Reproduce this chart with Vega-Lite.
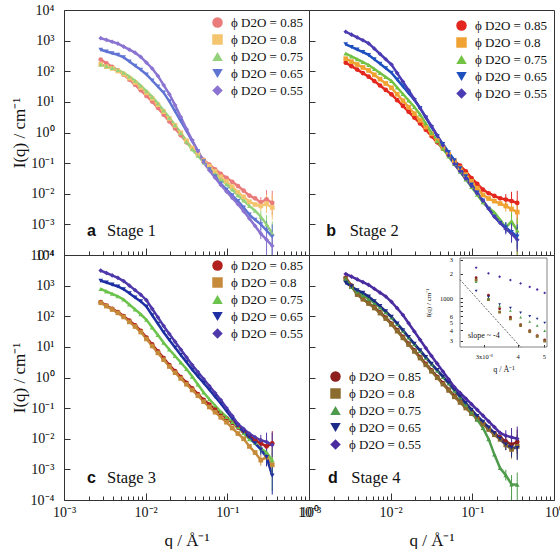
{
"$schema": "https://vega.github.io/schema/vega-lite/v6.json",
"background": "white",
"padding": {"left": 9, "top": 2, "right": 0, "bottom": 0},
"bounds": "flush",
"spacing": 0,
"columns": 2,
"config": {
 "view": {"stroke": "#333", "strokeWidth": 1},
 "axis": {"domain": false, "grid": false, "labelFont": "Liberation Serif", "titleFont": "Liberation Serif", "labelFontSize": 14, "titleFontSize": 17, "titleFontWeight": "normal", "labelColor": "#111", "titleColor": "#111", "tickColor": "#333", "tickWidth": 1},
 "legend": {"padding": 0, "labelFont": "Liberation Serif", "labelFontSize": 13, "labelColor": "#111", "symbolSize": 110, "rowPadding": 3, "labelOffset": 7, "symbolStrokeWidth": 0}
},
"resolve": {"scale": {"color": "independent", "shape": "independent", "stroke": "independent"}, "legend": {"color": "independent", "shape": "independent"}},
"datasets": {
"a": [
{"s":"0.85","q":0.002818,"i":240},{"s":"0.85","q":0.003311,"i":182},{"s":"0.85","q":0.00389,"i":140},{"s":"0.85","q":0.004571,"i":107},{"s":"0.85","q":0.00537,"i":77.6},{"s":"0.85","q":0.00631,"i":53.1},{"s":"0.85","q":0.007413,"i":36.3},{"s":"0.85","q":0.00871,"i":24},{"s":"0.85","q":0.01023,"i":15.7},{"s":"0.85","q":0.01202,"i":10.2},{"s":"0.85","q":0.01413,"i":6.38},{"s":"0.85","q":0.0166,"i":3.8},{"s":"0.85","q":0.0195,"i":2.29},{"s":"0.85","q":0.02291,"i":1.35},{"s":"0.85","q":0.02692,"i":0.813},{"s":"0.85","q":0.03162,"i":0.479},{"s":"0.85","q":0.03715,"i":0.302},{"s":"0.85","q":0.04365,"i":0.2},{"s":"0.85","q":0.05129,"i":0.129},{"s":"0.85","q":0.06026,"i":0.0891},{"s":"0.85","q":0.0708,"i":0.0631},{"s":"0.85","q":0.08318,"i":0.0447},{"s":"0.85","q":0.09772,"i":0.0331},{"s":"0.85","q":0.1148,"i":0.0245},{"s":"0.85","q":0.1349,"i":0.0178},{"s":"0.85","q":0.1585,"i":0.0126},{"s":"0.85","q":0.1862,"i":0.0087},{"s":"0.85","q":0.2188,"i":0.0071},{"s":"0.85","q":0.257,"i":0.0052,"lo":0.00347,"hi":0.0078},{"s":"0.85","q":0.302,"i":0.0066,"lo":0.0033,"hi":0.0132},{"s":"0.85","q":0.3548,"i":0.005,"lo":0.002,"hi":0.0125},
{"s":"0.8","q":0.002818,"i":170},{"s":"0.8","q":0.003311,"i":141},{"s":"0.8","q":0.00389,"i":124},{"s":"0.8","q":0.004571,"i":102},{"s":"0.8","q":0.00537,"i":81.3},{"s":"0.8","q":0.00631,"i":59.6},{"s":"0.8","q":0.007413,"i":42.7},{"s":"0.8","q":0.00871,"i":29.5},{"s":"0.8","q":0.01023,"i":19.7},{"s":"0.8","q":0.01202,"i":12.9},{"s":"0.8","q":0.01413,"i":8.04},{"s":"0.8","q":0.0166,"i":4.79},{"s":"0.8","q":0.0195,"i":2.88},{"s":"0.8","q":0.02291,"i":1.7},{"s":"0.8","q":0.02692,"i":0.977},{"s":"0.8","q":0.03162,"i":0.537},{"s":"0.8","q":0.03715,"i":0.309},{"s":"0.8","q":0.04365,"i":0.195},{"s":"0.8","q":0.05129,"i":0.12},{"s":"0.8","q":0.06026,"i":0.0794},{"s":"0.8","q":0.0708,"i":0.0537},{"s":"0.8","q":0.08318,"i":0.0355},{"s":"0.8","q":0.09772,"i":0.0251},{"s":"0.8","q":0.1148,"i":0.017},{"s":"0.8","q":0.1349,"i":0.0112},{"s":"0.8","q":0.1585,"i":0.0079},{"s":"0.8","q":0.1862,"i":0.0055},{"s":"0.8","q":0.2188,"i":0.00447},{"s":"0.8","q":0.257,"i":0.00398,"lo":0.00265,"hi":0.00597},{"s":"0.8","q":0.302,"i":0.00468,"lo":0.00234,"hi":0.00936},{"s":"0.8","q":0.3548,"i":0.00355,"lo":0.00142,"hi":0.00888},
{"s":"0.75","q":0.002818,"i":166},{"s":"0.75","q":0.003311,"i":145},{"s":"0.75","q":0.00389,"i":129},{"s":"0.75","q":0.004571,"i":110},{"s":"0.75","q":0.00537,"i":89.1},{"s":"0.75","q":0.00631,"i":67.6},{"s":"0.75","q":0.007413,"i":49},{"s":"0.75","q":0.00871,"i":33.9},{"s":"0.75","q":0.01023,"i":22.4},{"s":"0.75","q":0.01202,"i":14.5},{"s":"0.75","q":0.01413,"i":8.91},{"s":"0.75","q":0.0166,"i":5.25},{"s":"0.75","q":0.0195,"i":3.02},{"s":"0.75","q":0.02291,"i":1.74},{"s":"0.75","q":0.02692,"i":0.955},{"s":"0.75","q":0.03162,"i":0.501},{"s":"0.75","q":0.03715,"i":0.282},{"s":"0.75","q":0.04365,"i":0.174},{"s":"0.75","q":0.05129,"i":0.105},{"s":"0.75","q":0.06026,"i":0.0676},{"s":"0.75","q":0.0708,"i":0.0447},{"s":"0.75","q":0.08318,"i":0.0295},{"s":"0.75","q":0.09772,"i":0.0204},{"s":"0.75","q":0.1148,"i":0.0138},{"s":"0.75","q":0.1349,"i":0.0089},{"s":"0.75","q":0.1585,"i":0.006},{"s":"0.75","q":0.1862,"i":0.004},{"s":"0.75","q":0.2188,"i":0.0028},{"s":"0.75","q":0.257,"i":0.00178,"lo":0.00119,"hi":0.00267},{"s":"0.75","q":0.302,"i":0.001,"lo":0.00001,"hi":0.002},{"s":"0.75","q":0.3548,"i":0.0005,"lo":0.00001,"hi":0.00125},
{"s":"0.65","q":0.002818,"i":501},{"s":"0.65","q":0.003311,"i":441},{"s":"0.65","q":0.00389,"i":389},{"s":"0.65","q":0.004571,"i":344},{"s":"0.65","q":0.00537,"i":284},{"s":"0.65","q":0.00631,"i":208},{"s":"0.65","q":0.007413,"i":152},{"s":"0.65","q":0.00871,"i":112},{"s":"0.65","q":0.01023,"i":78.7},{"s":"0.65","q":0.01202,"i":49.9},{"s":"0.65","q":0.01413,"i":31.6},{"s":"0.65","q":0.0166,"i":20},{"s":"0.65","q":0.0195,"i":10.4},{"s":"0.65","q":0.02291,"i":4.94},{"s":"0.65","q":0.02692,"i":2.36},{"s":"0.65","q":0.03162,"i":1.12},{"s":"0.65","q":0.03715,"i":0.527},{"s":"0.65","q":0.04365,"i":0.245},{"s":"0.65","q":0.05129,"i":0.114},{"s":"0.65","q":0.06026,"i":0.0631},{"s":"0.65","q":0.0708,"i":0.0369},{"s":"0.65","q":0.08318,"i":0.0216},{"s":"0.65","q":0.09772,"i":0.0137},{"s":"0.65","q":0.1148,"i":0.00887},{"s":"0.65","q":0.1349,"i":0.00575},{"s":"0.65","q":0.1585,"i":0.00352},{"s":"0.65","q":0.1862,"i":0.00209},{"s":"0.65","q":0.2188,"i":0.00141},{"s":"0.65","q":0.257,"i":0.001,"lo":0.00067,"hi":0.0015},{"s":"0.65","q":0.302,"i":0.00063,"lo":0.00001,"hi":0.00126},{"s":"0.65","q":0.3548,"i":0.0004,"lo":0.00001,"hi":0.001},
{"s":"0.55","q":0.002818,"i":1202},{"s":"0.55","q":0.003311,"i":1057},{"s":"0.55","q":0.00389,"i":920},{"s":"0.55","q":0.004571,"i":802},{"s":"0.55","q":0.00537,"i":641},{"s":"0.55","q":0.00631,"i":509},{"s":"0.55","q":0.007413,"i":405},{"s":"0.55","q":0.00871,"i":294},{"s":"0.55","q":0.01023,"i":191},{"s":"0.55","q":0.01202,"i":123},{"s":"0.55","q":0.01413,"i":70.3},{"s":"0.55","q":0.0166,"i":35.3},{"s":"0.55","q":0.0195,"i":17.8},{"s":"0.55","q":0.02291,"i":7.85},{"s":"0.55","q":0.02692,"i":3.19},{"s":"0.55","q":0.03162,"i":1.3},{"s":"0.55","q":0.03715,"i":0.556},{"s":"0.55","q":0.04365,"i":0.245},{"s":"0.55","q":0.05129,"i":0.107},{"s":"0.55","q":0.06026,"i":0.0582},{"s":"0.55","q":0.0708,"i":0.0335},{"s":"0.55","q":0.08318,"i":0.0193},{"s":"0.55","q":0.09772,"i":0.0118},{"s":"0.55","q":0.1148,"i":0.00733},{"s":"0.55","q":0.1349,"i":0.00457},{"s":"0.55","q":0.1585,"i":0.00267},{"s":"0.55","q":0.1862,"i":0.00155},{"s":"0.55","q":0.2188,"i":0.00089},{"s":"0.55","q":0.257,"i":0.0005,"lo":0.00033,"hi":0.00075},{"s":"0.55","q":0.302,"i":0.000316,"lo":0.00001,"hi":0.00063},{"s":"0.55","q":0.3548,"i":0.0002,"lo":0.00001,"hi":0.0005}
],
"b": [
{"s":"0.85","q":0.002818,"i":191},{"s":"0.85","q":0.003311,"i":147},{"s":"0.85","q":0.00389,"i":113},{"s":"0.85","q":0.004571,"i":86.9},{"s":"0.85","q":0.00537,"i":66.5},{"s":"0.85","q":0.00631,"i":47.8},{"s":"0.85","q":0.007413,"i":34.2},{"s":"0.85","q":0.00871,"i":24.5},{"s":"0.85","q":0.01023,"i":17.6},{"s":"0.85","q":0.01202,"i":11.4},{"s":"0.85","q":0.01413,"i":7.36},{"s":"0.85","q":0.0166,"i":4.76},{"s":"0.85","q":0.0195,"i":3.08},{"s":"0.85","q":0.02291,"i":1.97},{"s":"0.85","q":0.02692,"i":1.23},{"s":"0.85","q":0.03162,"i":0.766},{"s":"0.85","q":0.03715,"i":0.477},{"s":"0.85","q":0.04365,"i":0.297},{"s":"0.85","q":0.05129,"i":0.185},{"s":"0.85","q":0.06026,"i":0.118},{"s":"0.85","q":0.0708,"i":0.0826},{"s":"0.85","q":0.08318,"i":0.0538},{"s":"0.85","q":0.09772,"i":0.0325},{"s":"0.85","q":0.1148,"i":0.0211},{"s":"0.85","q":0.1349,"i":0.0137},{"s":"0.85","q":0.1585,"i":0.0104},{"s":"0.85","q":0.1862,"i":0.0085},{"s":"0.85","q":0.2188,"i":0.0071},{"s":"0.85","q":0.257,"i":0.0065,"lo":0.00433,"hi":0.00975},{"s":"0.85","q":0.302,"i":0.0058,"lo":0.0029,"hi":0.0116},{"s":"0.85","q":0.3548,"i":0.005,"lo":0.00001,"hi":0.0125},
{"s":"0.8","q":0.002818,"i":257},{"s":"0.8","q":0.003311,"i":206},{"s":"0.8","q":0.00389,"i":166},{"s":"0.8","q":0.004571,"i":133},{"s":"0.8","q":0.00537,"i":106},{"s":"0.8","q":0.00631,"i":76.4},{"s":"0.8","q":0.007413,"i":55.3},{"s":"0.8","q":0.00871,"i":40},{"s":"0.8","q":0.01023,"i":28.8},{"s":"0.8","q":0.01202,"i":17.7},{"s":"0.8","q":0.01413,"i":10.9},{"s":"0.8","q":0.0166,"i":6.7},{"s":"0.8","q":0.0195,"i":4.11},{"s":"0.8","q":0.02291,"i":2.5},{"s":"0.8","q":0.02692,"i":1.5},{"s":"0.8","q":0.03162,"i":0.899},{"s":"0.8","q":0.03715,"i":0.54},{"s":"0.8","q":0.04365,"i":0.324},{"s":"0.8","q":0.05129,"i":0.195},{"s":"0.8","q":0.06026,"i":0.117},{"s":"0.8","q":0.0708,"i":0.0703},{"s":"0.8","q":0.08318,"i":0.0423},{"s":"0.8","q":0.09772,"i":0.0254},{"s":"0.8","q":0.1148,"i":0.0153},{"s":"0.8","q":0.1349,"i":0.00918},{"s":"0.8","q":0.1585,"i":0.00697},{"s":"0.8","q":0.1862,"i":0.00575},{"s":"0.8","q":0.2188,"i":0.00479},{"s":"0.8","q":0.257,"i":0.00398,"lo":0.00265,"hi":0.00597},{"s":"0.8","q":0.302,"i":0.00316,"lo":0.00158,"hi":0.00632},{"s":"0.8","q":0.3548,"i":0.00251,"lo":0.001,"hi":0.00628},
{"s":"0.75","q":0.002818,"i":380},{"s":"0.75","q":0.003311,"i":306},{"s":"0.75","q":0.00389,"i":248},{"s":"0.75","q":0.004571,"i":200},{"s":"0.75","q":0.00537,"i":160},{"s":"0.75","q":0.00631,"i":119},{"s":"0.75","q":0.007413,"i":87.5},{"s":"0.75","q":0.00871,"i":64.7},{"s":"0.75","q":0.01023,"i":47.9},{"s":"0.75","q":0.01202,"i":29.4},{"s":"0.75","q":0.01413,"i":18.1},{"s":"0.75","q":0.0166,"i":11.1},{"s":"0.75","q":0.0195,"i":6.82},{"s":"0.75","q":0.02291,"i":3.89},{"s":"0.75","q":0.02692,"i":1.96},{"s":"0.75","q":0.03162,"i":0.991},{"s":"0.75","q":0.03715,"i":0.524},{"s":"0.75","q":0.04365,"i":0.294},{"s":"0.75","q":0.05129,"i":0.166},{"s":"0.75","q":0.06026,"i":0.0933},{"s":"0.75","q":0.0708,"i":0.0525},{"s":"0.75","q":0.08318,"i":0.0295},{"s":"0.75","q":0.09772,"i":0.0166},{"s":"0.75","q":0.1148,"i":0.00933},{"s":"0.75","q":0.1349,"i":0.00525},{"s":"0.75","q":0.1585,"i":0.00347},{"s":"0.75","q":0.1862,"i":0.00245},{"s":"0.75","q":0.2188,"i":0.00141},{"s":"0.75","q":0.257,"i":0.00079,"lo":0.00053,"hi":0.00119},{"s":"0.75","q":0.302,"i":0.00126,"lo":0.00063,"hi":0.00252},{"s":"0.75","q":0.3548,"i":0.00063,"lo":0.00001,"hi":0.00158},
{"s":"0.65","q":0.002818,"i":759},{"s":"0.65","q":0.003311,"i":622},{"s":"0.65","q":0.00389,"i":512},{"s":"0.65","q":0.004571,"i":422},{"s":"0.65","q":0.00537,"i":341},{"s":"0.65","q":0.00631,"i":244},{"s":"0.65","q":0.007413,"i":175},{"s":"0.65","q":0.00871,"i":125},{"s":"0.65","q":0.01023,"i":89.1},{"s":"0.65","q":0.01202,"i":53.3},{"s":"0.65","q":0.01413,"i":32},{"s":"0.65","q":0.0166,"i":19.1},{"s":"0.65","q":0.0195,"i":11.5},{"s":"0.65","q":0.02291,"i":6.35},{"s":"0.65","q":0.02692,"i":3.08},{"s":"0.65","q":0.03162,"i":1.5},{"s":"0.65","q":0.03715,"i":0.764},{"s":"0.65","q":0.04365,"i":0.417},{"s":"0.65","q":0.05129,"i":0.228},{"s":"0.65","q":0.06026,"i":0.124},{"s":"0.65","q":0.0708,"i":0.0676},{"s":"0.65","q":0.08318,"i":0.0369},{"s":"0.65","q":0.09772,"i":0.0201},{"s":"0.65","q":0.1148,"i":0.011},{"s":"0.65","q":0.1349,"i":0.00596},{"s":"0.65","q":0.1585,"i":0.00324},{"s":"0.65","q":0.1862,"i":0.00178},{"s":"0.65","q":0.2188,"i":0.00112},{"s":"0.65","q":0.257,"i":0.00079,"lo":0.00053,"hi":0.00119},{"s":"0.65","q":0.302,"i":0.00056,"lo":0.00028,"hi":0.00112},{"s":"0.65","q":0.3548,"i":0.0004,"lo":0.00016,"hi":0.001},
{"s":"0.55","q":0.002818,"i":1950},{"s":"0.55","q":0.003311,"i":1570},{"s":"0.55","q":0.00389,"i":1271},{"s":"0.55","q":0.004571,"i":1028},{"s":"0.55","q":0.00537,"i":813},{"s":"0.55","q":0.00631,"i":546},{"s":"0.55","q":0.007413,"i":366},{"s":"0.55","q":0.00871,"i":247},{"s":"0.55","q":0.01023,"i":166},{"s":"0.55","q":0.01202,"i":86.9},{"s":"0.55","q":0.01413,"i":45.6},{"s":"0.55","q":0.0166,"i":23.9},{"s":"0.55","q":0.0195,"i":12.3},{"s":"0.55","q":0.02291,"i":6.27},{"s":"0.55","q":0.02692,"i":3.19},{"s":"0.55","q":0.03162,"i":1.63},{"s":"0.55","q":0.03715,"i":0.798},{"s":"0.55","q":0.04365,"i":0.378},{"s":"0.55","q":0.05129,"i":0.179},{"s":"0.55","q":0.06026,"i":0.094},{"s":"0.55","q":0.0708,"i":0.054},{"s":"0.55","q":0.08318,"i":0.031},{"s":"0.55","q":0.09772,"i":0.0178},{"s":"0.55","q":0.1148,"i":0.0102},{"s":"0.55","q":0.1349,"i":0.00589},{"s":"0.55","q":0.1585,"i":0.00324},{"s":"0.55","q":0.1862,"i":0.00178},{"s":"0.55","q":0.2188,"i":0.00112},{"s":"0.55","q":0.257,"i":0.00071,"lo":0.00047,"hi":0.00107},{"s":"0.55","q":0.302,"i":0.0005,"lo":0.00025,"hi":0.001},{"s":"0.55","q":0.3548,"i":0.000316,"lo":0.00013,"hi":0.00079}
],
"c": [
{"s":"0.85","q":0.002818,"i":288},{"s":"0.85","q":0.003311,"i":223},{"s":"0.85","q":0.00389,"i":174},{"s":"0.85","q":0.004571,"i":136},{"s":"0.85","q":0.00537,"i":102},{"s":"0.85","q":0.00631,"i":71.9},{"s":"0.85","q":0.007413,"i":50.8},{"s":"0.85","q":0.00871,"i":33.4},{"s":"0.85","q":0.01023,"i":20},{"s":"0.85","q":0.01202,"i":12},{"s":"0.85","q":0.01413,"i":7.16},{"s":"0.85","q":0.0166,"i":4.29},{"s":"0.85","q":0.0195,"i":2.56},{"s":"0.85","q":0.02291,"i":1.61},{"s":"0.85","q":0.02692,"i":1.04},{"s":"0.85","q":0.03162,"i":0.675},{"s":"0.85","q":0.03715,"i":0.44},{"s":"0.85","q":0.04365,"i":0.286},{"s":"0.85","q":0.05129,"i":0.187},{"s":"0.85","q":0.06026,"i":0.131},{"s":"0.85","q":0.0708,"i":0.0929},{"s":"0.85","q":0.08318,"i":0.0662},{"s":"0.85","q":0.09772,"i":0.0468},{"s":"0.85","q":0.1148,"i":0.033},{"s":"0.85","q":0.1349,"i":0.0232},{"s":"0.85","q":0.1585,"i":0.0168},{"s":"0.85","q":0.1862,"i":0.0122},{"s":"0.85","q":0.2188,"i":0.0089},{"s":"0.85","q":0.257,"i":0.0071,"lo":0.00473,"hi":0.0107},{"s":"0.85","q":0.302,"i":0.0056,"lo":0.0028,"hi":0.0112},{"s":"0.85","q":0.3548,"i":0.0071,"lo":0.00284,"hi":0.0178},
{"s":"0.8","q":0.002818,"i":275},{"s":"0.8","q":0.003311,"i":214},{"s":"0.8","q":0.00389,"i":166},{"s":"0.8","q":0.004571,"i":129},{"s":"0.8","q":0.00537,"i":95.1},{"s":"0.8","q":0.00631,"i":65.6},{"s":"0.8","q":0.007413,"i":46.3},{"s":"0.8","q":0.00871,"i":30.5},{"s":"0.8","q":0.01023,"i":18.2},{"s":"0.8","q":0.01202,"i":10.7},{"s":"0.8","q":0.01413,"i":6.38},{"s":"0.8","q":0.0166,"i":3.82},{"s":"0.8","q":0.0195,"i":2.29},{"s":"0.8","q":0.02291,"i":1.44},{"s":"0.8","q":0.02692,"i":0.929},{"s":"0.8","q":0.03162,"i":0.601},{"s":"0.8","q":0.03715,"i":0.392},{"s":"0.8","q":0.04365,"i":0.255},{"s":"0.8","q":0.05129,"i":0.163},{"s":"0.8","q":0.06026,"i":0.109},{"s":"0.8","q":0.0708,"i":0.0738},{"s":"0.8","q":0.08318,"i":0.0501},{"s":"0.8","q":0.09772,"i":0.0347},{"s":"0.8","q":0.1148,"i":0.0224},{"s":"0.8","q":0.1349,"i":0.0148},{"s":"0.8","q":0.1585,"i":0.01},{"s":"0.8","q":0.1862,"i":0.00562},{"s":"0.8","q":0.2188,"i":0.00355},{"s":"0.8","q":0.257,"i":0.002,"lo":0.00133,"hi":0.003},{"s":"0.8","q":0.302,"i":0.00251,"lo":0.00126,"hi":0.00502},{"s":"0.8","q":0.3548,"i":0.00141,"lo":0.00056,"hi":0.00353},
{"s":"0.75","q":0.002818,"i":776},{"s":"0.75","q":0.003311,"i":650},{"s":"0.75","q":0.00389,"i":541},{"s":"0.75","q":0.004571,"i":450},{"s":"0.75","q":0.00537,"i":351},{"s":"0.75","q":0.00631,"i":243},{"s":"0.75","q":0.007413,"i":168},{"s":"0.75","q":0.00871,"i":116},{"s":"0.75","q":0.01023,"i":76.4},{"s":"0.75","q":0.01202,"i":43.1},{"s":"0.75","q":0.01413,"i":24.3},{"s":"0.75","q":0.0166,"i":13.7},{"s":"0.75","q":0.0195,"i":8.24},{"s":"0.75","q":0.02291,"i":5.05},{"s":"0.75","q":0.02692,"i":3.09},{"s":"0.75","q":0.03162,"i":1.89},{"s":"0.75","q":0.03715,"i":1.07},{"s":"0.75","q":0.04365,"i":0.59},{"s":"0.75","q":0.05129,"i":0.324},{"s":"0.75","q":0.06026,"i":0.195},{"s":"0.75","q":0.0708,"i":0.122},{"s":"0.75","q":0.08318,"i":0.0759},{"s":"0.75","q":0.09772,"i":0.0514},{"s":"0.75","q":0.1148,"i":0.0353},{"s":"0.75","q":0.1349,"i":0.0243},{"s":"0.75","q":0.1585,"i":0.0153},{"s":"0.75","q":0.1862,"i":0.00962},{"s":"0.75","q":0.2188,"i":0.00741},{"s":"0.75","q":0.257,"i":0.00479,"lo":0.00319,"hi":0.00719},{"s":"0.75","q":0.302,"i":0.00355,"lo":0.00178,"hi":0.0071},{"s":"0.75","q":0.3548,"i":0.002,"lo":0.0002,"hi":0.005},
{"s":"0.65","q":0.002818,"i":1445},{"s":"0.65","q":0.003311,"i":1268},{"s":"0.65","q":0.00389,"i":1079},{"s":"0.65","q":0.004571,"i":940},{"s":"0.65","q":0.00537,"i":757},{"s":"0.65","q":0.00631,"i":565},{"s":"0.65","q":0.007413,"i":411},{"s":"0.65","q":0.00871,"i":306},{"s":"0.65","q":0.01023,"i":206},{"s":"0.65","q":0.01202,"i":108},{"s":"0.65","q":0.01413,"i":56.8},{"s":"0.65","q":0.0166,"i":29.8},{"s":"0.65","q":0.0195,"i":16.7},{"s":"0.65","q":0.02291,"i":9.53},{"s":"0.65","q":0.02692,"i":5.42},{"s":"0.65","q":0.03162,"i":3.16},{"s":"0.65","q":0.03715,"i":1.81},{"s":"0.65","q":0.04365,"i":1.09},{"s":"0.65","q":0.05129,"i":0.659},{"s":"0.65","q":0.06026,"i":0.398},{"s":"0.65","q":0.0708,"i":0.235},{"s":"0.65","q":0.08318,"i":0.142},{"s":"0.65","q":0.09772,"i":0.0805},{"s":"0.65","q":0.1148,"i":0.0461},{"s":"0.65","q":0.1349,"i":0.0263},{"s":"0.65","q":0.1585,"i":0.0166},{"s":"0.65","q":0.1862,"i":0.0112},{"s":"0.65","q":0.2188,"i":0.0071},{"s":"0.65","q":0.257,"i":0.00447,"lo":0.00298,"hi":0.0067},{"s":"0.65","q":0.302,"i":0.00251,"lo":0.00126,"hi":0.00502},{"s":"0.65","q":0.3548,"i":0.00063,"lo":0.00015,"hi":0.00158},
{"s":"0.55","q":0.002818,"i":3090},{"s":"0.55","q":0.003311,"i":2588},{"s":"0.55","q":0.00389,"i":2153},{"s":"0.55","q":0.004571,"i":1791},{"s":"0.55","q":0.00537,"i":1409},{"s":"0.55","q":0.00631,"i":1005},{"s":"0.55","q":0.007413,"i":714},{"s":"0.55","q":0.00871,"i":508},{"s":"0.55","q":0.01023,"i":334},{"s":"0.55","q":0.01202,"i":175},{"s":"0.55","q":0.01413,"i":92},{"s":"0.55","q":0.0166,"i":48.3},{"s":"0.55","q":0.0195,"i":26.5},{"s":"0.55","q":0.02291,"i":14.8},{"s":"0.55","q":0.02692,"i":8.2},{"s":"0.55","q":0.03162,"i":4.56},{"s":"0.55","q":0.03715,"i":2.55},{"s":"0.55","q":0.04365,"i":1.51},{"s":"0.55","q":0.05129,"i":0.889},{"s":"0.55","q":0.06026,"i":0.525},{"s":"0.55","q":0.0708,"i":0.31},{"s":"0.55","q":0.08318,"i":0.183},{"s":"0.55","q":0.09772,"i":0.101},{"s":"0.55","q":0.1148,"i":0.0555},{"s":"0.55","q":0.1349,"i":0.0302},{"s":"0.55","q":0.1585,"i":0.0209},{"s":"0.55","q":0.1862,"i":0.0147},{"s":"0.55","q":0.2188,"i":0.0112},{"s":"0.55","q":0.257,"i":0.0089,"lo":0.00593,"hi":0.0134},{"s":"0.55","q":0.302,"i":0.0079,"lo":0.00395,"hi":0.0158},{"s":"0.55","q":0.3548,"i":0.0063,"lo":0.00252,"hi":0.0158}
],
"d": [
{"s":"0.85","q":0.002818,"i":1795},{"s":"0.85","q":0.003311,"i":1000},{"s":"0.85","q":0.00389,"i":540},{"s":"0.85","q":0.004571,"i":370},{"s":"0.85","q":0.00537,"i":270},{"s":"0.85","q":0.00631,"i":195},{"s":"0.85","q":0.007413,"i":135},{"s":"0.85","q":0.00871,"i":90},{"s":"0.85","q":0.01023,"i":58.1},{"s":"0.85","q":0.01202,"i":35.1},{"s":"0.85","q":0.01413,"i":21.1},{"s":"0.85","q":0.0166,"i":12.7},{"s":"0.85","q":0.0195,"i":7.66},{"s":"0.85","q":0.02291,"i":4.62},{"s":"0.85","q":0.02692,"i":2.79},{"s":"0.85","q":0.03162,"i":1.7},{"s":"0.85","q":0.03715,"i":1.05},{"s":"0.85","q":0.04365,"i":0.653},{"s":"0.85","q":0.05129,"i":0.405},{"s":"0.85","q":0.06026,"i":0.251},{"s":"0.85","q":0.0708,"i":0.164},{"s":"0.85","q":0.08318,"i":0.108},{"s":"0.85","q":0.09772,"i":0.0708},{"s":"0.85","q":0.1148,"i":0.0471},{"s":"0.85","q":0.1349,"i":0.032},{"s":"0.85","q":0.1585,"i":0.0217},{"s":"0.85","q":0.1862,"i":0.0152},{"s":"0.85","q":0.2188,"i":0.0111},{"s":"0.85","q":0.257,"i":0.0081,"lo":0.0054,"hi":0.0122},{"s":"0.85","q":0.302,"i":0.00646,"lo":0.00323,"hi":0.0129},{"s":"0.85","q":0.3548,"i":0.0079,"lo":0.00316,"hi":0.0198},
{"s":"0.8","q":0.002818,"i":1679},{"s":"0.8","q":0.003311,"i":930},{"s":"0.8","q":0.00389,"i":510},{"s":"0.8","q":0.004571,"i":360},{"s":"0.8","q":0.00537,"i":260},{"s":"0.8","q":0.00631,"i":186},{"s":"0.8","q":0.007413,"i":127},{"s":"0.8","q":0.00871,"i":84},{"s":"0.8","q":0.01023,"i":54.2},{"s":"0.8","q":0.01202,"i":32.7},{"s":"0.8","q":0.01413,"i":19.7},{"s":"0.8","q":0.0166,"i":11.9},{"s":"0.8","q":0.0195,"i":7.14},{"s":"0.8","q":0.02291,"i":4.32},{"s":"0.8","q":0.02692,"i":2.6},{"s":"0.8","q":0.03162,"i":1.59},{"s":"0.8","q":0.03715,"i":0.984},{"s":"0.8","q":0.04365,"i":0.61},{"s":"0.8","q":0.05129,"i":0.378},{"s":"0.8","q":0.06026,"i":0.234},{"s":"0.8","q":0.0708,"i":0.153},{"s":"0.8","q":0.08318,"i":0.101},{"s":"0.8","q":0.09772,"i":0.0661},{"s":"0.8","q":0.1148,"i":0.044},{"s":"0.8","q":0.1349,"i":0.0299},{"s":"0.8","q":0.1585,"i":0.02},{"s":"0.8","q":0.1862,"i":0.0135},{"s":"0.8","q":0.2188,"i":0.00955},{"s":"0.8","q":0.257,"i":0.0063,"lo":0.0042,"hi":0.00945},{"s":"0.8","q":0.302,"i":0.00447,"lo":0.00224,"hi":0.00894},{"s":"0.8","q":0.3548,"i":0.00562,"lo":0.00225,"hi":0.014},
{"s":"0.75","q":0.002818,"i":1600},{"s":"0.75","q":0.003311,"i":900},{"s":"0.75","q":0.00389,"i":650},{"s":"0.75","q":0.004571,"i":490},{"s":"0.75","q":0.00537,"i":370},{"s":"0.75","q":0.00631,"i":270},{"s":"0.75","q":0.007413,"i":195},{"s":"0.75","q":0.00871,"i":135},{"s":"0.75","q":0.01023,"i":92},{"s":"0.75","q":0.01202,"i":55.6},{"s":"0.75","q":0.01413,"i":33.5},{"s":"0.75","q":0.0166,"i":20.1},{"s":"0.75","q":0.0195,"i":12.1},{"s":"0.75","q":0.02291,"i":7.33},{"s":"0.75","q":0.02692,"i":4.42},{"s":"0.75","q":0.03162,"i":2.7},{"s":"0.75","q":0.03715,"i":1.67},{"s":"0.75","q":0.04365,"i":1.04},{"s":"0.75","q":0.05129,"i":0.641},{"s":"0.75","q":0.06026,"i":0.372},{"s":"0.75","q":0.0708,"i":0.222},{"s":"0.75","q":0.08318,"i":0.13},{"s":"0.75","q":0.09772,"i":0.0741},{"s":"0.75","q":0.1148,"i":0.042},{"s":"0.75","q":0.1349,"i":0.0226},{"s":"0.75","q":0.1585,"i":0.0097},{"s":"0.75","q":0.1862,"i":0.00304},{"s":"0.75","q":0.2188,"i":0.00111},{"s":"0.75","q":0.257,"i":0.000646,"lo":0.00043,"hi":0.00097},{"s":"0.75","q":0.302,"i":0.000324,"lo":0.00001,"hi":0.00065},{"s":"0.75","q":0.3548,"i":0.000316,"lo":0.00001,"hi":0.00079},
{"s":"0.65","q":0.002818,"i":1233},{"s":"0.65","q":0.003311,"i":950},{"s":"0.65","q":0.00389,"i":710},{"s":"0.65","q":0.004571,"i":580},{"s":"0.65","q":0.00537,"i":440},{"s":"0.65","q":0.00631,"i":310},{"s":"0.65","q":0.007413,"i":215},{"s":"0.65","q":0.00871,"i":145},{"s":"0.65","q":0.01023,"i":96.4},{"s":"0.65","q":0.01202,"i":58.2},{"s":"0.65","q":0.01413,"i":35.1},{"s":"0.65","q":0.0166,"i":21.1},{"s":"0.65","q":0.0195,"i":12.7},{"s":"0.65","q":0.02291,"i":7.67},{"s":"0.65","q":0.02692,"i":4.62},{"s":"0.65","q":0.03162,"i":2.82},{"s":"0.65","q":0.03715,"i":1.75},{"s":"0.65","q":0.04365,"i":1.08},{"s":"0.65","q":0.05129,"i":0.671},{"s":"0.65","q":0.06026,"i":0.398},{"s":"0.65","q":0.0708,"i":0.243},{"s":"0.65","q":0.08318,"i":0.146},{"s":"0.65","q":0.09772,"i":0.0891},{"s":"0.65","q":0.1148,"i":0.0553},{"s":"0.65","q":0.1349,"i":0.0359},{"s":"0.65","q":0.1585,"i":0.0233},{"s":"0.65","q":0.1862,"i":0.0152},{"s":"0.65","q":0.2188,"i":0.0099},{"s":"0.65","q":0.257,"i":0.00646,"lo":0.0043,"hi":0.0097},{"s":"0.65","q":0.302,"i":0.00513,"lo":0.00256,"hi":0.0103},{"s":"0.65","q":0.3548,"i":0.005,"lo":0.002,"hi":0.0125},
{"s":"0.55","q":0.002818,"i":2399},{"s":"0.55","q":0.003311,"i":1968},{"s":"0.55","q":0.00389,"i":1603},{"s":"0.55","q":0.004571,"i":1303},{"s":"0.55","q":0.00537,"i":1054},{"s":"0.55","q":0.00631,"i":789},{"s":"0.55","q":0.007413,"i":590},{"s":"0.55","q":0.00871,"i":442},{"s":"0.55","q":0.01023,"i":296},{"s":"0.55","q":0.01202,"i":183},{"s":"0.55","q":0.01413,"i":110},{"s":"0.55","q":0.0166,"i":59.3},{"s":"0.55","q":0.0195,"i":31.8},{"s":"0.55","q":0.02291,"i":17.1},{"s":"0.55","q":0.02692,"i":9.2},{"s":"0.55","q":0.03162,"i":5.06},{"s":"0.55","q":0.03715,"i":2.82},{"s":"0.55","q":0.04365,"i":1.57},{"s":"0.55","q":0.05129,"i":0.871},{"s":"0.55","q":0.06026,"i":0.484},{"s":"0.55","q":0.0708,"i":0.313},{"s":"0.55","q":0.08318,"i":0.206},{"s":"0.55","q":0.09772,"i":0.135},{"s":"0.55","q":0.1148,"i":0.0881},{"s":"0.55","q":0.1349,"i":0.057},{"s":"0.55","q":0.1585,"i":0.037},{"s":"0.55","q":0.1862,"i":0.024},{"s":"0.55","q":0.2188,"i":0.0155},{"s":"0.55","q":0.257,"i":0.0126,"lo":0.0084,"hi":0.0189},{"s":"0.55","q":0.302,"i":0.0112,"lo":0.0056,"hi":0.0224},{"s":"0.55","q":0.3548,"i":0.01,"lo":0.004,"hi":0.025}
],
"inset": [
{"s":"0.85","q":0.00281,"i":1795},{"s":"0.85","q":0.00312,"i":1090},{"s":"0.85","q":0.00343,"i":743},{"s":"0.85","q":0.00376,"i":584},{"s":"0.85","q":0.0041,"i":473},{"s":"0.85","q":0.00443,"i":398},{"s":"0.85","q":0.00472,"i":345},{"s":"0.85","q":0.00503,"i":305},
{"s":"0.8","q":0.00281,"i":1679},{"s":"0.8","q":0.00312,"i":964},{"s":"0.8","q":0.00343,"i":675},{"s":"0.8","q":0.00376,"i":557},{"s":"0.8","q":0.0041,"i":460},{"s":"0.8","q":0.00443,"i":387},{"s":"0.8","q":0.00472,"i":338},{"s":"0.8","q":0.00503,"i":296},
{"s":"0.75","q":0.00281,"i":1600},{"s":"0.75","q":0.00312,"i":1010},{"s":"0.75","q":0.00343,"i":801},{"s":"0.75","q":0.00376,"i":708},{"s":"0.75","q":0.0041,"i":584},{"s":"0.75","q":0.00443,"i":516},{"s":"0.75","q":0.00472,"i":460},{"s":"0.75","q":0.00503,"i":398},
{"s":"0.65","q":0.00281,"i":1233},{"s":"0.65","q":0.00312,"i":1038},{"s":"0.65","q":0.00343,"i":841},{"s":"0.65","q":0.00376,"i":757},{"s":"0.65","q":0.0041,"i":663},{"s":"0.65","q":0.00443,"i":601},{"s":"0.65","q":0.00472,"i":557},{"s":"0.65","q":0.00503,"i":497},
{"s":"0.55","q":0.00281,"i":2395},{"s":"0.55","q":0.00312,"i":2037},{"s":"0.55","q":0.00343,"i":1846},{"s":"0.55","q":0.00376,"i":1679},{"s":"0.55","q":0.0041,"i":1528},{"s":"0.55","q":0.00443,"i":1384},{"s":"0.55","q":0.00472,"i":1285},{"s":"0.55","q":0.00503,"i":1165}
]
},
"concat": [
{
 "width": 245, "height": 245,
 "data": {"name": "a"},
 "encoding": {
  "x": {"field": "q", "type": "quantitative", "scale": {"type": "log", "domain": [0.001, 1]}, "axis": {"values": [0.001,0.002,0.003,0.004,0.005,0.006,0.007,0.008,0.009,0.01,0.02,0.03,0.04,0.05,0.06,0.07,0.08,0.09,0.1,0.2,0.3,0.4,0.5,0.6,0.7,0.8,0.9,1], "labels": false, "title": null, "tickSize": {"condition": {"test": "abs(log(datum.value)/LN10 - round(log(datum.value)/LN10)) < 0.001", "value": -7}, "value": -4}}},
  "y": {"field": "i", "type": "quantitative", "scale": {"type": "log", "domain": [0.0001, 10000]}, "title": "I(q) / cm⁻¹", "axis": {"values": [0.0001,0.001,0.01,0.1,1,10,100,1000,10000], "labelExpr": "'10' + ['⁻⁴','⁻³','⁻²','⁻¹','⁰','¹','²','³','⁴'][round(log(datum.value)/LN10)+4]", "tickSize": -6, "labelPadding": 16, "titlePadding": 2}}
 },
 "layer": [
  {"mark": {"type": "line", "strokeWidth": 2.5, "clip": true},
   "encoding": {"stroke": {"field": "s", "type": "nominal", "scale": {"domain": ["0.55","0.65","0.75","0.8","0.85"], "range": ["#8B74D1","#5F74D3","#93D27A","#F5C46E","#E97B7B"]}, "legend": null}, "order": {"field": "q", "type": "quantitative"}}},
  {"transform": [{"filter": "isValid(datum.lo)"}], "mark": {"type": "rule", "strokeWidth": 1, "clip": true},
   "encoding": {"y": {"field": "lo", "type": "quantitative", "scale": {"type": "log", "domain": [0.0001, 10000]}, "title": "I(q) / cm⁻¹"}, "y2": {"field": "hi"},
    "color": {"field": "s", "type": "nominal", "scale": {"domain": ["0.85","0.8","0.75","0.65","0.55"], "range": ["#E97B7B","#F5C46E","#93D27A","#5F74D3","#8B74D1"]}, "legend": {"title": null, "orient": "none", "legendX": 147, "legendY": 6, "labelExpr": "'ϕ D2O = ' + datum.label"}}}},
  {"mark": {"type": "point", "filled": true, "size": 22, "opacity": 1, "clip": true},
   "encoding": {
    "color": {"field": "s", "type": "nominal", "scale": {"domain": ["0.85","0.8","0.75","0.65","0.55"], "range": ["#E97B7B","#F5C46E","#93D27A","#5F74D3","#8B74D1"]}, "legend": {"title": null, "orient": "none", "legendX": 147, "legendY": 6, "labelExpr": "'ϕ D2O = ' + datum.label"}},
    "shape": {"field": "s", "type": "nominal", "scale": {"domain": ["0.85","0.8","0.75","0.65","0.55"], "range": ["circle","square","triangle-up","triangle-down","diamond"]}, "legend": {"title": null, "orient": "none", "legendX": 147, "legendY": 6, "labelExpr": "'ϕ D2O = ' + datum.label"}}}},
  {"transform": [{"filter": "datum.s == '0.85' && datum.q == 0.002818"}], "mark": {"type": "text", "text": "a", "font": "Liberation Sans", "fontWeight": "bold", "fontSize": 16, "align": "left", "baseline": "middle", "color": "#111"},
   "encoding": {"x": {"datum": 0.00191}, "y": {"datum": 0.0006}}},
  {"transform": [{"filter": "datum.s == '0.85' && datum.q == 0.002818"}], "mark": {"type": "text", "text": "Stage 1", "font": "Liberation Serif", "fontSize": 16.5, "align": "left", "baseline": "middle", "color": "#111"},
   "encoding": {"x": {"datum": 0.00336}, "y": {"datum": 0.0006}}}
 ]
},
{
 "width": 245, "height": 245,
 "data": {"name": "b"},
 "encoding": {
  "x": {"field": "q", "type": "quantitative", "scale": {"type": "log", "domain": [0.001, 1]}, "axis": {"values": [0.001,0.002,0.003,0.004,0.005,0.006,0.007,0.008,0.009,0.01,0.02,0.03,0.04,0.05,0.06,0.07,0.08,0.09,0.1,0.2,0.3,0.4,0.5,0.6,0.7,0.8,0.9,1], "labels": false, "title": null, "tickSize": {"condition": {"test": "abs(log(datum.value)/LN10 - round(log(datum.value)/LN10)) < 0.001", "value": -7}, "value": -4}}},
  "y": {"field": "i", "type": "quantitative", "scale": {"type": "log", "domain": [0.0001, 10000]}, "title": null, "axis": {"values": [0.0001,0.001,0.01,0.1,1,10,100,1000,10000], "labels": false, "tickSize": -6}}
 },
 "layer": [
  {"mark": {"type": "line", "strokeWidth": 2.5, "clip": true},
   "encoding": {"stroke": {"field": "s", "type": "nominal", "scale": {"domain": ["0.55","0.65","0.75","0.8","0.85"], "range": ["#4B3CB3","#1D4FBF","#72C244","#F0A232","#E3261E"]}, "legend": null}, "order": {"field": "q", "type": "quantitative"}}},
  {"transform": [{"filter": "isValid(datum.lo)"}], "mark": {"type": "rule", "strokeWidth": 1, "clip": true},
   "encoding": {"y": {"field": "lo", "type": "quantitative", "scale": {"type": "log", "domain": [0.0001, 10000]}, "title": null}, "y2": {"field": "hi"},
    "color": {"field": "s", "type": "nominal", "scale": {"domain": ["0.85","0.8","0.75","0.65","0.55"], "range": ["#E3261E","#F0A232","#72C244","#1D4FBF","#4B3CB3"]}, "legend": {"title": null, "orient": "none", "legendX": 146, "legendY": 9, "labelExpr": "'ϕ D2O = ' + datum.label"}}}},
  {"mark": {"type": "point", "filled": true, "size": 22, "opacity": 1, "clip": true},
   "encoding": {
    "color": {"field": "s", "type": "nominal", "scale": {"domain": ["0.85","0.8","0.75","0.65","0.55"], "range": ["#E3261E","#F0A232","#72C244","#1D4FBF","#4B3CB3"]}, "legend": {"title": null, "orient": "none", "legendX": 146, "legendY": 9, "labelExpr": "'ϕ D2O = ' + datum.label"}},
    "shape": {"field": "s", "type": "nominal", "scale": {"domain": ["0.85","0.8","0.75","0.65","0.55"], "range": ["circle","square","triangle-up","triangle-down","diamond"]}, "legend": {"title": null, "orient": "none", "legendX": 146, "legendY": 9, "labelExpr": "'ϕ D2O = ' + datum.label"}}}},
  {"transform": [{"filter": "datum.s == '0.85' && datum.q == 0.002818"}], "mark": {"type": "text", "text": "b", "font": "Liberation Sans", "fontWeight": "bold", "fontSize": 16, "align": "left", "baseline": "middle", "color": "#111"},
   "encoding": {"x": {"datum": 0.00163}, "y": {"datum": 0.0006}}},
  {"transform": [{"filter": "datum.s == '0.85' && datum.q == 0.002818"}], "mark": {"type": "text", "text": "Stage 2", "font": "Liberation Serif", "fontSize": 16.5, "align": "left", "baseline": "middle", "color": "#111"},
   "encoding": {"x": {"datum": 0.00315}, "y": {"datum": 0.0006}}}
 ]
},
{
 "width": 245, "height": 245,
 "data": {"name": "c"},
 "encoding": {
  "x": {"field": "q", "type": "quantitative", "scale": {"type": "log", "domain": [0.001, 1]}, "title": "q / Å⁻¹", "axis": {"values": [0.001,0.002,0.003,0.004,0.005,0.006,0.007,0.008,0.009,0.01,0.02,0.03,0.04,0.05,0.06,0.07,0.08,0.09,0.1,0.2,0.3,0.4,0.5,0.6,0.7,0.8,0.9,1], "labelExpr": "abs(log(datum.value)/LN10 - round(log(datum.value)/LN10)) < 0.001 ? '10' + ['⁻⁴','⁻³','⁻²','⁻¹','⁰','¹','²','³','⁴'][round(log(datum.value)/LN10)+4] : ''", "labelFlush": false, "labelOverlap": false, "labelPadding": 12, "titlePadding": 10, "tickSize": {"condition": {"test": "abs(log(datum.value)/LN10 - round(log(datum.value)/LN10)) < 0.001", "value": -7}, "value": -4}}},
  "y": {"field": "i", "type": "quantitative", "scale": {"type": "log", "domain": [0.0001, 10000]}, "title": "I(q) / cm⁻¹", "axis": {"values": [0.0001,0.001,0.01,0.1,1,10,100,1000,10000], "labelExpr": "'10' + ['⁻⁴','⁻³','⁻²','⁻¹','⁰','¹','²','³','⁴'][round(log(datum.value)/LN10)+4]", "tickSize": -6, "labelPadding": 16, "titlePadding": 2}}
 },
 "layer": [
  {"mark": {"type": "line", "strokeWidth": 2.5, "clip": true},
   "encoding": {"stroke": {"field": "s", "type": "nominal", "scale": {"domain": ["0.55","0.65","0.75","0.8","0.85"], "range": ["#4F39AA","#1D2FA2","#6BC34B","#C58B3A","#B21F1F"]}, "legend": null}, "order": {"field": "q", "type": "quantitative"}}},
  {"transform": [{"filter": "isValid(datum.lo)"}], "mark": {"type": "rule", "strokeWidth": 1, "clip": true},
   "encoding": {"y": {"field": "lo", "type": "quantitative", "scale": {"type": "log", "domain": [0.0001, 10000]}, "title": "I(q) / cm⁻¹"}, "y2": {"field": "hi"},
    "color": {"field": "s", "type": "nominal", "scale": {"domain": ["0.85","0.8","0.75","0.65","0.55"], "range": ["#B21F1F","#C58B3A","#6BC34B","#1D2FA2","#4F39AA"]}, "legend": {"title": null, "orient": "none", "legendX": 147, "legendY": 4, "labelExpr": "'ϕ D2O = ' + datum.label"}}}},
  {"mark": {"type": "point", "filled": true, "size": 22, "opacity": 1, "clip": true},
   "encoding": {
    "color": {"field": "s", "type": "nominal", "scale": {"domain": ["0.85","0.8","0.75","0.65","0.55"], "range": ["#B21F1F","#C58B3A","#6BC34B","#1D2FA2","#4F39AA"]}, "legend": {"title": null, "orient": "none", "legendX": 147, "legendY": 4, "labelExpr": "'ϕ D2O = ' + datum.label"}},
    "shape": {"field": "s", "type": "nominal", "scale": {"domain": ["0.85","0.8","0.75","0.65","0.55"], "range": ["circle","square","triangle-up","triangle-down","diamond"]}, "legend": {"title": null, "orient": "none", "legendX": 147, "legendY": 4, "labelExpr": "'ϕ D2O = ' + datum.label"}}}},
  {"transform": [{"filter": "datum.s == '0.85' && datum.q == 0.002818"}], "mark": {"type": "text", "text": "c", "font": "Liberation Sans", "fontWeight": "bold", "fontSize": 16, "align": "left", "baseline": "middle", "color": "#111"},
   "encoding": {"x": {"datum": 0.00191}, "y": {"datum": 0.00051}}},
  {"transform": [{"filter": "datum.s == '0.85' && datum.q == 0.002818"}], "mark": {"type": "text", "text": "Stage 3", "font": "Liberation Serif", "fontSize": 16.5, "align": "left", "baseline": "middle", "color": "#111"},
   "encoding": {"x": {"datum": 0.00336}, "y": {"datum": 0.00051}}}
 ]
},
{
 "width": 245, "height": 245,
 "resolve": {"scale": {"x": "independent", "y": "independent"}},
 "layer": [
  {
   "data": {"name": "d"},
   "encoding": {
    "x": {"field": "q", "type": "quantitative", "scale": {"type": "log", "domain": [0.001, 1]}, "title": "q / Å⁻¹", "axis": {"values": [0.001,0.002,0.003,0.004,0.005,0.006,0.007,0.008,0.009,0.01,0.02,0.03,0.04,0.05,0.06,0.07,0.08,0.09,0.1,0.2,0.3,0.4,0.5,0.6,0.7,0.8,0.9,1], "labelExpr": "abs(log(datum.value)/LN10 - round(log(datum.value)/LN10)) < 0.001 ? '10' + ['⁻⁴','⁻³','⁻²','⁻¹','⁰','¹','²','³','⁴'][round(log(datum.value)/LN10)+4] : ''", "labelFlush": false, "labelOverlap": false, "labelPadding": 12, "titlePadding": 10, "orient": "bottom", "tickSize": {"condition": {"test": "abs(log(datum.value)/LN10 - round(log(datum.value)/LN10)) < 0.001", "value": -7}, "value": -4}}},
    "y": {"field": "i", "type": "quantitative", "scale": {"type": "log", "domain": [0.0001, 10000]}, "title": null, "axis": {"values": [0.0001,0.001,0.01,0.1,1,10,100,1000,10000], "labels": false, "tickSize": -6, "orient": "left"}}
   },
   "layer": [
    {"mark": {"type": "line", "strokeWidth": 2.5, "clip": true},
     "encoding": {"stroke": {"field": "s", "type": "nominal", "scale": {"domain": ["0.55","0.65","0.75","0.8","0.85"], "range": ["#4B2BA0","#1C2B85","#4E9B4B","#8B6B2E","#8E1E1E"]}, "legend": null}, "order": {"field": "q", "type": "quantitative"}}},
    {"transform": [{"filter": "isValid(datum.lo)"}], "mark": {"type": "rule", "strokeWidth": 1, "clip": true},
     "encoding": {"y": {"field": "lo", "type": "quantitative", "scale": {"type": "log", "domain": [0.0001, 10000]}, "title": null}, "y2": {"field": "hi"},
      "color": {"field": "s", "type": "nominal", "scale": {"domain": ["0.85","0.8","0.75","0.65","0.55"], "range": ["#8E1E1E","#8B6B2E","#4E9B4B","#1C2B85","#4B2BA0"]}, "legend": {"title": null, "orient": "none", "legendX": 20, "legendY": 115, "labelExpr": "'ϕ D2O = ' + datum.label"}}}},
    {"mark": {"type": "point", "filled": true, "size": 22, "opacity": 1, "clip": true},
     "encoding": {
      "color": {"field": "s", "type": "nominal", "scale": {"domain": ["0.85","0.8","0.75","0.65","0.55"], "range": ["#8E1E1E","#8B6B2E","#4E9B4B","#1C2B85","#4B2BA0"]}, "legend": {"title": null, "orient": "none", "legendX": 20, "legendY": 115, "labelExpr": "'ϕ D2O = ' + datum.label"}},
      "shape": {"field": "s", "type": "nominal", "scale": {"domain": ["0.85","0.8","0.75","0.65","0.55"], "range": ["circle","square","triangle-up","triangle-down","diamond"]}, "legend": {"title": null, "orient": "none", "legendX": 20, "legendY": 115, "labelExpr": "'ϕ D2O = ' + datum.label"}}}},
    {"transform": [{"filter": "datum.s == '0.85' && datum.q == 0.002818"}], "mark": {"type": "text", "text": "d", "font": "Liberation Sans", "fontWeight": "bold", "fontSize": 16, "align": "left", "baseline": "middle", "color": "#111"},
     "encoding": {"x": {"datum": 0.00171}, "y": {"datum": 0.00051}}},
    {"transform": [{"filter": "datum.s == '0.85' && datum.q == 0.002818"}], "mark": {"type": "text", "text": "Stage 4", "font": "Liberation Serif", "fontSize": 16.5, "align": "left", "baseline": "middle", "color": "#111"},
     "encoding": {"x": {"datum": 0.0033}, "y": {"datum": 0.00051}}}
   ]
  },
  {
   "data": {"name": "inset"},
   "encoding": {
    "x": {"field": "q", "type": "quantitative", "scale": {"type": "log", "domain": [0.00245, 0.00513], "range": [151, 238]}, "title": "q / Å⁻¹", "axis": {"orient": "bottom", "offset": -153, "values": [0.003, 0.004, 0.005], "labelExpr": "datum.value < 0.0035 ? '3x10⁻³' : (datum.value < 0.0045 ? '4' : '5')", "labelFontSize": 6.5, "labelPadding": 9, "labelFlush": false, "tickSize": -2.5, "titleFontSize": 8, "titlePadding": 5}},
    "y": {"field": "i", "type": "quantitative", "scale": {"type": "log", "domain": [250, 3150], "range": [92, 3]}, "title": "I(q) / cm⁻¹", "axis": {"orient": "left", "offset": -151, "values": [300,400,500,600,700,800,900,1000,2000,3000], "labelExpr": "datum.value == 1000 ? '1000' : (datum.value >= 2000 ? format(datum.value/1000, 'd') : (datum.value >= 700 ? '' : format(datum.value/100, 'd')))", "labelFontSize": 6.5, "labelPadding": 10, "labelOverlap": false, "tickSize": -2.5, "titleFontSize": 7, "titlePadding": 8}}
   },
   "layer": [
    {"transform": [{"filter": "datum.s == '0.85' && datum.q == 0.00281"}], "mark": {"type": "rect", "filled": false, "stroke": "#666", "strokeWidth": 0.8},
     "encoding": {"x": {"datum": 0.00245}, "x2": {"datum": 0.00513}, "y": {"datum": 250}, "y2": {"datum": 3150}}},
    {"transform": [{"filter": "datum.s == '0.85' && datum.q == 0.00281"}], "mark": {"type": "rule", "stroke": "#222", "strokeWidth": 0.7, "strokeDash": [2, 1.5]},
     "encoding": {"x": {"datum": 0.00245}, "x2": {"datum": 0.00412}, "y": {"datum": 1700}, "y2": {"datum": 246}}},
    {"mark": {"type": "point", "filled": true, "size": 8, "opacity": 1},
     "encoding": {
      "color": {"field": "s", "type": "nominal", "scale": {"domain": ["0.85","0.8","0.75","0.65","0.55"], "range": ["#8E1E1E","#8B6B2E","#4E9B4B","#1C2B85","#4B2BA0"]}, "legend": {"title": null, "orient": "none", "legendX": 20, "legendY": 115, "labelExpr": "'ϕ D2O = ' + datum.label"}},
      "shape": {"field": "s", "type": "nominal", "scale": {"domain": ["0.85","0.8","0.75","0.65","0.55"], "range": ["circle","square","triangle-up","triangle-down","diamond"]}, "legend": {"title": null, "orient": "none", "legendX": 20, "legendY": 115, "labelExpr": "'ϕ D2O = ' + datum.label"}}}},
    {"transform": [{"filter": "datum.s == '0.85' && datum.q == 0.00281"}], "mark": {"type": "text", "text": "slope ~ -4", "font": "Liberation Serif", "fontSize": 8, "align": "left", "baseline": "middle", "color": "#111"},
     "encoding": {"x": {"datum": 0.00262}, "y": {"datum": 345}}}
   ]
  }
 ]
}
]
}
